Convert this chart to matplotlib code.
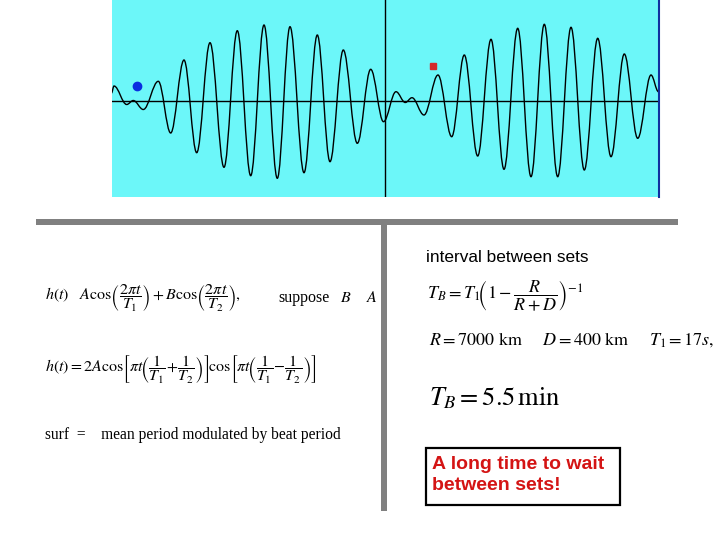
import matplotlib
matplotlib.use("Agg")
import matplotlib.pyplot as plt
from matplotlib.path import Path
from matplotlib.patches import PathPatch, Rectangle

plt.rcParams["mathtext.fontset"] = "stix"

# -------------------------------
# DATA
# -------------------------------
# extrema of the beat wave h(t): time, height
t_ext = [111.5, 114, 126.7, 133.3, 143.3, 158.3, 170.7, 184, 196.7, 210, 224,
         237.3, 250.7, 264, 277.3, 290, 304, 317.3, 330, 343.3, 357.3, 370.7,
         383.5, 396, 405.3, 412, 424, 438, 451.7, 464.3, 477.7, 491, 504,
         517.7, 531, 544.3, 557.7, 571, 584.3, 597.7, 611, 624.3, 637.7, 651,
         658.5]
h_ext = [8, 15, -3.5, 0.5, -8.5, 19.7, -32, 41, -51.7, 58.3, -66.3,
         70.3, -74.7, 76, -77.3, 74.3, -71.7, 66, -60.7, 51, -42.3, 31.7,
         -20.7, 9.3, -1.5, 3.3, -14, 26, -35.7, 46, -55, 61.7, -68.3,
         72.7, -75.7, 76.7, -75.7, 73.7, -69, 62.7, -55.7, 47, -37.3, 26,
         9.3]
t_axis = 385
dot_t, dot_h = 136.7, 15.3
square_t, square_h = 433.3, 35.3

label_interval = "interval between sets"
label_box = "A long time to wait\nbetween sets!"
eq_h1 = r"$h(t)\quad A\cos\!\left(\dfrac{2\pi t}{T_1}\right)+B\cos\!\left(\dfrac{2\pi t}{T_2}\right),$"
eq_h2 = (r"$h(t)=2A\cos\!\left[\pi t\!\left(\dfrac{1}{T_1}\!+\!\dfrac{1}{T_2}\right)\right]\!"
         r"\cos\!\left[\pi t\!\left(\dfrac{1}{T_1}\!-\!\dfrac{1}{T_2}\right)\right]$")
eq_surf = "surf  =    mean period modulated by beat period"
eq_tb = r"$T_B=T_1\!\left(1-\dfrac{R}{R+D}\right)^{-1}$"
eq_vals = r"$R=7000\ \mathrm{km}\quad\ \ D=400\ \mathrm{km}\quad\ \ T_1=17s,$"
eq_result = r"$T_B=5.5\,\mathrm{min}$"

# -------------------------------
# FIGURE
# -------------------------------
fig = plt.figure(figsize=(7.2, 5.4), dpi=100)

# slide layer in pixel coordinates
bg = fig.add_axes([0, 0, 1, 1])
bg.set_xlim(0, 720)
bg.set_ylim(540, 0)
bg.axis("off")

bg.add_patch(Rectangle((35.7, 219), 642, 6, color="#808080", lw=0))
bg.add_patch(Rectangle((380.7, 225), 6, 286, color="#808080", lw=0))

# wave panel
ax = fig.add_axes([111.5 / 720, 1 - 196.7 / 540, 547 / 720, 196.7 / 540])
ax.set_facecolor("#6cf7f9")
ax.set_xlim(111.5, 658.5)
ax.set_ylim(-95.7, 101)
ax.set_xticks([])
ax.set_yticks([])
for s in ["top", "left", "bottom"]:
    ax.spines[s].set_visible(False)
ax.spines["right"].set_color("#1030a0")
ax.spines["right"].set_linewidth(1.5)

ax.axhline(0, color="black", lw=1.0)
ax.axvline(t_axis, color="black", lw=1.0)

# smooth curve through the extrema (cubic bezier, flat at each extremum)
k = 0.364
verts = [(t_ext[0], h_ext[0])]
codes = [Path.MOVETO]
for i in range(len(t_ext) - 1):
    x0, y0 = t_ext[i], h_ext[i]
    x1, y1 = t_ext[i + 1], h_ext[i + 1]
    dx = x1 - x0
    verts += [(x0 + k * dx, y0), (x1 - k * dx, y1), (x1, y1)]
    codes += [Path.CURVE4] * 3
ax.add_patch(PathPatch(Path(verts, codes), facecolor="none",
                       edgecolor="black", lw=1.0))

ax.plot([dot_t], [dot_h], "o", color="#0a2ee0", ms=6)
ax.plot([square_t], [square_h], "s", color="#d42a2a", ms=4.5)

# left column equations
bg.text(45, 298, eq_h1, fontsize=11.5, va="center", ha="left")
bg.text(278, 298, "suppose", fontsize=11.5, family="Liberation Serif",
        va="center", ha="left")
bg.text(340, 298, r"$B$", fontsize=11.5, va="center", ha="left")
bg.text(366, 298, r"$A$", fontsize=11.5, va="center", ha="left")
bg.text(45, 370, eq_h2, fontsize=11.5, va="center", ha="left")
bg.text(45, 435, eq_surf, fontsize=11.2, family="Liberation Serif",
        va="center", ha="left")

# right column
bg.text(426, 257, label_interval, fontsize=12.4, family="Liberation Sans",
        va="center", ha="left")
bg.text(427, 296, eq_tb, fontsize=13, va="center", ha="left")
bg.text(429, 340, eq_vals, fontsize=13, va="center", ha="left")
bg.text(429, 398, eq_result, fontsize=19, va="center", ha="left")

bg.add_patch(Rectangle((425.5, 447.5), 194, 57, facecolor="white",
                       edgecolor="black", lw=1.6))
bg.text(432, 475, label_box, fontsize=14, family="Liberation Sans",
        fontweight="bold", color="#d41414", va="center", ha="left",
        linespacing=1.3)

fig.savefig("out.png", dpi=100)
